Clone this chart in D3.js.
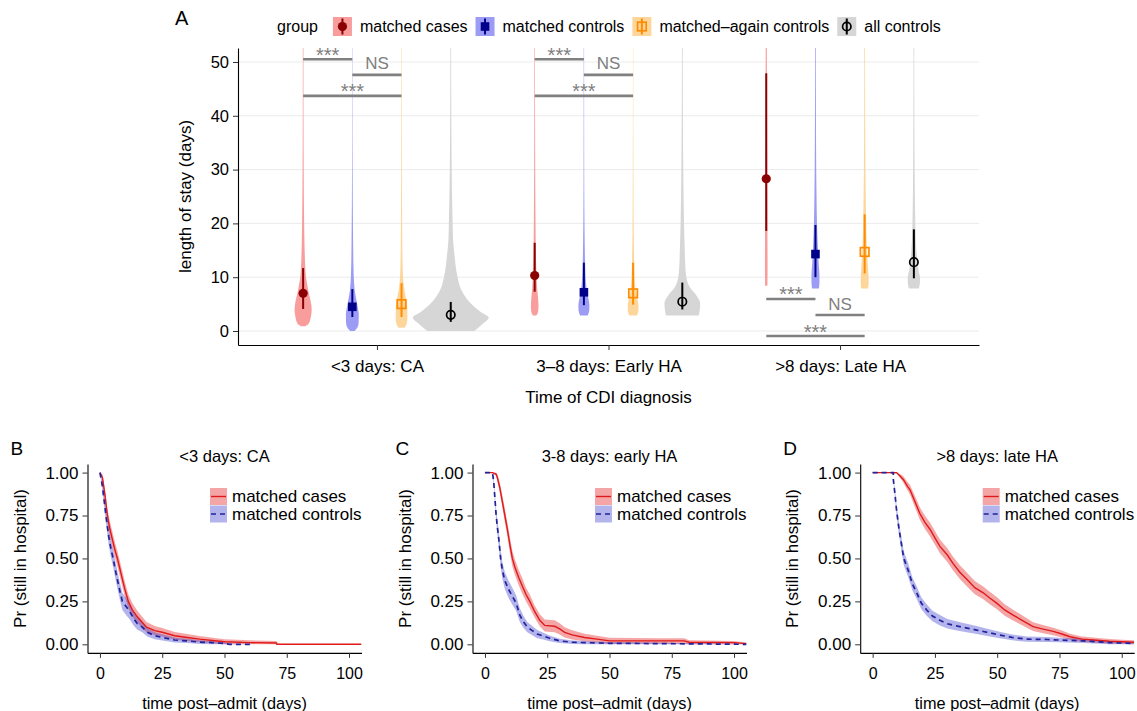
<!DOCTYPE html>
<html><head><meta charset="utf-8">
<script src="https://cdn.jsdelivr.net/npm/d3@7"></script>
<style>
body{margin:0;background:#fff}
svg{display:block}
text{font-family:"Liberation Sans",Arial,Helvetica,sans-serif;fill:#000}
</style>
</head><body>
<svg id="c" width="1137" height="711"></svg>
<script>
// ---------------- DATA ----------------
const categories = ["<3 days: CA", "3–8 days: Early HA", ">8 days: Late HA"];
const groups = ["matched cases", "matched controls", "matched–again controls", "all controls"];
const yTicksA = [0, 10, 20, 30, 40, 50];

// point estimates and intervals, [category][group]
const centerValues = [[7.0, 4.5, 5.0, 3.0], [10.3, 7.2, 7.0, 5.45], [28.3, 14.3, 14.7, 12.8]];
const lowerValues  = [[4.1, 2.6, 2.6, 1.7], [7.3, 4.8, 4.9, 4.0], [18.6, 10.0, 10.7, 9.8]];
const upperValues  = [[11.7, 7.8, 8.9, 5.4], [16.4, 12.7, 12.7, 9.0], [47.9, 19.7, 21.7, 18.9]];

// violin density profiles [value, relative half-width]
const violinCA = [
  [[0.9,0.06],[1.3,0.14],[2.5,0.2],[4,0.225],[5.5,0.2],[7,0.15],[8.5,0.11],[10,0.075],[12,0.055],[15,0.04],[20,0.027],[30,0.015],[40,0.01],[52.6,0.008]],
  [[0,0.06],[0.6,0.13],[1.5,0.165],[3,0.17],[4.5,0.14],[6,0.1],[7.5,0.065],[9,0.045],[12,0.03],[17,0.02],[24,0.012],[35,0.006],[52.6,0.004]],
  [[0.6,0.08],[1.2,0.13],[2.5,0.155],[4.5,0.15],[6,0.12],[7.5,0.08],[9,0.05],[12,0.03],[18,0.018],[30,0.01],[52.6,0.006]],
  [[0,0.62],[1.2,0.82],[2.5,1.0],[3.5,0.8],[4.5,0.62],[6,0.42],[7.6,0.28],[10,0.18],[14,0.1],[17,0.06],[20,0.05],[25,0.035],[30,0.025],[40,0.015],[52.6,0.01]]
];
const violinEarly = [
  [[2.9,0.04],[3.3,0.08],[4.5,0.1],[6,0.09],[8,0.065],[10,0.05],[12,0.04],[15,0.03],[20,0.022],[30,0.014],[40,0.01],[52.6,0.007]],
  [[2.9,0.1],[3.8,0.14],[4.8,0.145],[6,0.12],[7,0.09],[8.5,0.06],[10,0.045],[13,0.03],[17,0.02],[22,0.013],[30,0.008],[52.6,0.005]],
  [[2.9,0.1],[3.8,0.14],[4.8,0.14],[6,0.11],[7,0.08],[8.5,0.055],[10,0.04],[13,0.028],[18,0.017],[25,0.011],[35,0.007],[52.6,0.005]],
  [[2.9,0.43],[4,0.46],[5.2,0.47],[6.2,0.41],[7,0.33],[8,0.21],[9,0.14],[10.3,0.1],[12,0.08],[15,0.065],[20,0.045],[30,0.025],[40,0.015],[52.6,0.01]]
];
const violinLate = [
  [[8.4,0.03],[12,0.035],[20,0.03],[30,0.025],[40,0.02],[52.6,0.015]],
  [[7.9,0.09],[9,0.105],[10.5,0.105],[12,0.09],[14,0.075],[17,0.055],[20,0.04],[25,0.028],[30,0.02],[40,0.013],[52.6,0.009]],
  [[7.9,0.09],[9,0.105],[10.5,0.1],[12,0.085],[14,0.07],[17,0.05],[20,0.04],[25,0.028],[30,0.02],[40,0.013],[52.6,0.009]],
  [[7.9,0.13],[9,0.16],[10,0.16],[11,0.13],[12.5,0.1],[15,0.065],[18,0.045],[22,0.032],[30,0.02],[40,0.013],[52.6,0.009]]
];
const violinProfiles = [violinCA, violinEarly, violinLate];

// significance comparisons
const sigCategory = [0, 0, 0, 1, 1, 1, 2, 2, 2];
const sigFrom     = [0, 1, 0, 0, 1, 0, 0, 1, 0];
const sigTo       = [1, 2, 2, 1, 2, 2, 1, 2, 2];
const sigLevel    = [50.5, 47.6, 43.7, 50.5, 47.6, 43.7, 5.95, 2.97, -0.93];
const sigLabel    = ["***", "NS", "***", "***", "NS", "***", "***", "NS", "***"];

// Kaplan–Meier readings: [time, survival, CI half-width]
const kmCAcases = [[0,1,0],[1,0.97,0.02],[2,0.87,0.035],[3,0.75,0.04],[4,0.67,0.045],[5,0.61,0.045],[6,0.55,0.045],[7,0.5,0.045],[8,0.44,0.045],[9,0.38,0.045],[10,0.32,0.045],[11.4,0.25,0.04],[13,0.2,0.04],[15,0.16,0.035],[18.7,0.1,0.03],[22,0.08,0.027],[25,0.07,0.025],[30,0.05,0.022],[35,0.04,0.02],[40,0.03,0.018],[50,0.015,0.015],[60,0.01,0.013],[70.9,0.008,0.012],[71,0,0],[105,0,0]];
const kmCAcontrols = [[0,1,0],[1,0.92,0.03],[2,0.8,0.04],[2.4,0.75,0.045],[3.5,0.63,0.05],[4.5,0.55,0.05],[5.3,0.5,0.05],[6.5,0.41,0.05],[8,0.31,0.05],[9,0.25,0.05],[10.5,0.22,0.05],[12,0.19,0.045],[13.5,0.15,0.04],[15,0.12,0.035],[17,0.1,0.03],[19,0.07,0.025],[22,0.05,0.02],[25,0.04,0.018],[30,0.025,0.015],[35,0.02,0.013],[40,0.013,0.011],[45,0.01,0.01],[50,0.005,0.007],[52,0,0.004],[61,0,0]];
const kmEarlyCases = [[0,1,0],[3,1,0],[4.5,0.99,0.01],[5,0.97,0.02],[6,0.91,0.03],[7,0.83,0.035],[8,0.75,0.04],[9,0.67,0.04],[10,0.58,0.045],[11,0.5,0.045],[12,0.45,0.045],[13.5,0.39,0.045],[15,0.34,0.045],[16.5,0.29,0.04],[18,0.25,0.04],[20,0.19,0.035],[22,0.14,0.035],[24,0.11,0.035],[28,0.105,0.035],[30,0.09,0.033],[32,0.07,0.03],[35,0.055,0.027],[40,0.04,0.022],[45,0.03,0.02],[50,0.02,0.018],[60,0.02,0.017],[70,0.02,0.016],[80,0.02,0.016],[82,0.012,0.012],[100,0.01,0.01],[105,0.004,0.006]];
const kmEarlyControls = [[0,1,0],[3,1,0],[3.5,0.95,0.02],[4,0.85,0.03],[4.5,0.75,0.035],[5,0.68,0.04],[5.5,0.62,0.045],[6.3,0.5,0.05],[7,0.43,0.05],[8,0.37,0.05],[9.5,0.32,0.05],[11,0.28,0.05],[12.5,0.24,0.045],[14,0.17,0.04],[15.5,0.13,0.035],[17,0.1,0.03],[19,0.08,0.027],[21,0.06,0.024],[23,0.05,0.02],[26,0.035,0.017],[30,0.02,0.013],[35,0.012,0.01],[40,0.01,0.009],[50,0.006,0.007],[70,0.004,0.005],[90,0.002,0.003],[105,0,0]];
const kmLateCases = [[0,1,0],[9.6,1,0.005],[11,0.98,0.012],[12.3,0.96,0.018],[14,0.92,0.025],[15,0.9,0.028],[17,0.83,0.033],[19,0.76,0.036],[21,0.71,0.038],[23,0.67,0.04],[25,0.62,0.04],[27,0.57,0.04],[30,0.52,0.04],[32.3,0.47,0.04],[35,0.42,0.04],[37.7,0.38,0.04],[41,0.33,0.038],[44.4,0.3,0.037],[47,0.27,0.036],[49.8,0.24,0.035],[53,0.2,0.033],[56.4,0.17,0.031],[60,0.14,0.029],[64.4,0.103,0.026],[68,0.09,0.024],[72.5,0.075,0.022],[76,0.06,0.02],[79.2,0.044,0.018],[84,0.03,0.016],[88.5,0.025,0.015],[95,0.018,0.013],[100,0.015,0.012],[105,0.012,0.011]];
const kmLateControls = [[0,1,0],[8.3,1,0],[8.3,0.96,0.012],[9,0.87,0.025],[9.6,0.78,0.032],[10.5,0.68,0.037],[11.6,0.58,0.04],[12.5,0.5,0.04],[14.3,0.43,0.04],[16,0.35,0.038],[17.7,0.3,0.036],[19.5,0.24,0.034],[21.7,0.2,0.033],[24,0.165,0.031],[27,0.14,0.03],[30,0.12,0.028],[32.3,0.112,0.027],[36,0.1,0.025],[41.7,0.083,0.023],[46,0.07,0.021],[51,0.054,0.019],[56,0.04,0.017],[61.8,0.03,0.015],[70,0.028,0.014],[75,0.025,0.013],[85,0.02,0.012],[95,0.01,0.01],[105,0.005,0.008]];

const kmTitles = ["<3 days: CA", "3-8 days: early HA", ">8 days: late HA"];
const kmLetters = ["B", "C", "D"];
const kmSeries = ["matched cases", "matched controls"];
const kmXTicks = [0, 25, 50, 75, 100];
const kmYTicks = [0, 0.25, 0.5, 0.75, 1];

// ---------------- STYLE ----------------
const violinFill = ["#f89c9c", "#9c9cf5", "#fdd69b", "#d6d6d6"];
const markColor = ["#8b0000", "#00008b", "#ff8c00", "#000000"];
const kmLine = ["#e0191b", "#22229a"];
const kmBand = ["#e31414", "#3a3acc"];

const svg = d3.select("#c");
const defs = svg.append("defs");

// ---------------- PANEL A ----------------
const ax = d3.scaleLinear().domain([-0.6, 2.6]).range([238, 979]);
const ay = d3.scaleLinear().domain([-2.6, 52.6]).range([345, 48]);
const dodge = 0.2125;
const vScale = d3.scaleLinear().domain([0, 1]).range([0, 38]);
const gx = (c, g) => ax(c + (g - 1.5) * dodge);

defs.append("clipPath").attr("id", "clipA").append("rect")
  .attr("x", ax.range()[0]).attr("y", ay.range()[1])
  .attr("width", ax.range()[1] - ax.range()[0]).attr("height", ay.range()[0] - ay.range()[1]);

const gA = svg.append("g");
gA.append("g").selectAll("line").data(yTicksA).join("line")
  .attr("x1", ax.range()[0]).attr("x2", ax.range()[1])
  .attr("y1", d => ay(d)).attr("y2", d => ay(d))
  .attr("stroke", "#ebebeb").attr("stroke-width", 1);

const vg = gA.append("g").attr("clip-path", "url(#clipA)");
categories.forEach((cat, c) => groups.forEach((grp, g) => {
  const cx = gx(c, g);
  const area = d3.area()
    .y(d => ay(d[0]))
    .x0(d => cx - vScale(d[1]))
    .x1(d => cx + vScale(d[1]))
    .curve(d3.curveMonotoneY);
  vg.append("path").attr("d", area(violinProfiles[c][g])).attr("fill", violinFill[g]);
}));

function drawMarker(sel, g, x, y) {
  if (g === 0) sel.append("circle").attr("cx", x).attr("cy", y).attr("r", 4.6).attr("fill", markColor[g]);
  else if (g === 1) sel.append("rect").attr("x", x - 4.3).attr("y", y - 4.3).attr("width", 8.6).attr("height", 8.6).attr("fill", markColor[g]);
  else if (g === 2) sel.append("rect").attr("x", x - 4.3).attr("y", y - 4.3).attr("width", 8.6).attr("height", 8.6).attr("fill", "none").attr("stroke", markColor[g]).attr("stroke-width", 1.7);
  else sel.append("circle").attr("cx", x).attr("cy", y).attr("r", 4.2).attr("fill", "none").attr("stroke", markColor[g]).attr("stroke-width", 1.7);
}

categories.forEach((cat, c) => groups.forEach((grp, g) => {
  const cx = gx(c, g);
  vg.append("line").attr("x1", cx).attr("x2", cx)
    .attr("y1", ay(lowerValues[c][g])).attr("y2", ay(upperValues[c][g]))
    .attr("stroke", markColor[g]).attr("stroke-width", 2);
  drawMarker(vg, g, cx, ay(centerValues[c][g]));
}));

// significance bars
sigLabel.forEach((lab, i) => {
  const c = sigCategory[i];
  const x1 = gx(c, sigFrom[i]), x2 = gx(c, sigTo[i]);
  const yy = ay(sigLevel[i]);
  gA.append("line").attr("x1", x1).attr("x2", x2).attr("y1", yy).attr("y2", yy)
    .attr("stroke", "#808080").attr("stroke-width", 2.6);
  const star = lab === "***";
  gA.append("text").attr("x", (x1 + x2) / 2).attr("y", star ? yy + 2.5 : yy - 5.5)
    .attr("text-anchor", "middle").attr("font-size", star ? 20 : 17)
    .style("fill", "#808080").text(lab);
});

// axes
const axL = gA.append("g").attr("transform", `translate(${ax.range()[0]},0)`)
  .call(d3.axisLeft(ay).tickValues(yTicksA).tickSize(5).tickPadding(4).tickSizeOuter(0));
axL.selectAll("text").attr("font-size", 16.5).attr("font-family", null);
const axB = gA.append("g").attr("transform", `translate(0,${ay.range()[0]})`)
  .call(d3.axisBottom(ax).tickValues([0, 1, 2]).tickFormat(i => categories[i]).tickSize(5).tickPadding(10).tickSizeOuter(0));
axB.selectAll("text").attr("font-size", 17).attr("font-family", null);
[axL, axB].forEach(a => { a.select(".domain").attr("stroke", "#000").attr("stroke-width", 1.1); a.selectAll(".tick line").attr("stroke", "#333"); });

gA.append("text").attr("transform", `translate(${185 + 6},${(ay.range()[0] + ay.range()[1]) / 2}) rotate(-90)`)
  .attr("text-anchor", "middle").attr("font-size", 17).text("length of stay (days)");
gA.append("text").attr("x", ax(1)).attr("y", 403).attr("text-anchor", "middle").attr("font-size", 17).text("Time of CDI diagnosis");
svg.append("text").attr("x", 175).attr("y", 25).attr("font-size", 20).text("A");

// legend A
{
  const legY = 26.5;
  let lx = 277;
  const gt = svg.append("text").attr("x", lx).attr("y", legY + 5.5).attr("font-size", 16).text("group");
  lx += gt.node().getComputedTextLength() + 15;
  groups.forEach((name, g) => {
    const kg = svg.append("g").attr("transform", `translate(${lx},${legY - 9.5})`);
    kg.append("rect").attr("width", 19).attr("height", 19).attr("fill", violinFill[g]);
    kg.append("line").attr("x1", 9.5).attr("x2", 9.5).attr("y1", 1.5).attr("y2", 17.5).attr("stroke", markColor[g]).attr("stroke-width", 2);
    drawMarker(kg, g, 9.5, 9.5);
    const t = svg.append("text").attr("x", lx + 27).attr("y", legY + 5.5).attr("font-size", 16).text(name);
    lx += 27 + t.node().getComputedTextLength() + 8;
  });
}

// ---------------- KM PANELS ----------------
const kmData = [[kmCAcases, kmCAcontrols], [kmEarlyCases, kmEarlyControls], [kmLateCases, kmLateControls]];
const kmLeft = [87.5, 472.5, 860.2];
const kmW = 274;
const ky = d3.scaleLinear().domain([-0.05, 1.05]).range([652.9, 464]);

kmData.forEach((pair, p) => {
  const L = kmLeft[p];
  const kx = d3.scaleLinear().domain([-5, 105]).range([L, L + kmW]);
  const g = svg.append("g");
  defs.append("clipPath").attr("id", "clipK" + p).append("rect")
    .attr("x", L).attr("y", ky.range()[1]).attr("width", kmW).attr("height", ky.range()[0] - ky.range()[1]);
  const pg = g.append("g").attr("clip-path", `url(#clipK${p})`);
  pair.forEach((ser, s) => {
    const band = d3.area().x(d => kx(d[0]))
      .y0(d => ky(Math.max(0, d[1] - d[2]))).y1(d => ky(Math.min(1, d[1] + d[2])));
    pg.append("path").attr("d", band(ser)).attr("fill", kmBand[s]).attr("fill-opacity", 0.38);
  });
  pair.forEach((ser, s) => {
    const line = d3.line().x(d => kx(d[0])).y(d => ky(d[1]));
    const path = pg.append("path").attr("d", line(ser)).attr("fill", "none")
      .attr("stroke", kmLine[s]).attr("stroke-width", s ? 1.7 : 1.4);
    if (s) path.attr("stroke-dasharray", "5,4");
  });
  const aL = g.append("g").attr("transform", `translate(${L},0)`)
    .call(d3.axisLeft(ky).tickValues(kmYTicks).tickFormat(d3.format(".2f")).tickSize(5).tickPadding(4).tickSizeOuter(0));
  aL.selectAll("text").attr("font-size", 17).attr("font-family", null);
  const aB = g.append("g").attr("transform", `translate(0,${ky.range()[0]})`)
    .call(d3.axisBottom(kx).tickValues(kmXTicks).tickSize(5).tickPadding(10).tickSizeOuter(0));
  aB.selectAll("text").attr("font-size", 16).attr("font-family", null);
  [aL, aB].forEach(a => { a.select(".domain").attr("stroke", "#000").attr("stroke-width", 1.1); a.selectAll(".tick line").attr("stroke", "#333"); });

  g.append("text").attr("x", kx(50)).attr("y", 461.5).attr("text-anchor", "middle").attr("font-size", 16.5).text(kmTitles[p]);
  g.append("text").attr("x", L - 77).attr("y", 455).attr("font-size", 19).text(kmLetters[p]);
  g.append("text").attr("transform", `translate(${L - 62},${(ky.range()[0] + ky.range()[1]) / 2}) rotate(-90)`)
    .attr("text-anchor", "middle").attr("font-size", 17).text("Pr (still in hospital)");
  g.append("text").attr("x", kx(50)).attr("y", 709).attr("text-anchor", "middle").attr("font-size", 16.3).text("time post–admit (days)");

  // legend
  kmSeries.forEach((name, s) => {
    const kxp = L + 122.5, kyp = 488 + s * 17.5;
    g.append("rect").attr("x", kxp).attr("y", kyp).attr("width", 17).attr("height", 17)
      .attr("fill", kmBand[s]).attr("fill-opacity", 0.38);
    const ln = g.append("line").attr("x1", kxp + 1).attr("x2", kxp + 16).attr("y1", kyp + 8.5).attr("y2", kyp + 8.5)
      .attr("stroke", kmLine[s]).attr("stroke-width", s ? 1.7 : 1.4);
    if (s) ln.attr("stroke-dasharray", "5,4");
    g.append("text").attr("x", kxp + 22).attr("y", kyp + 14).attr("font-size", 17).text(name);
  });
});
</script>
</body></html>
